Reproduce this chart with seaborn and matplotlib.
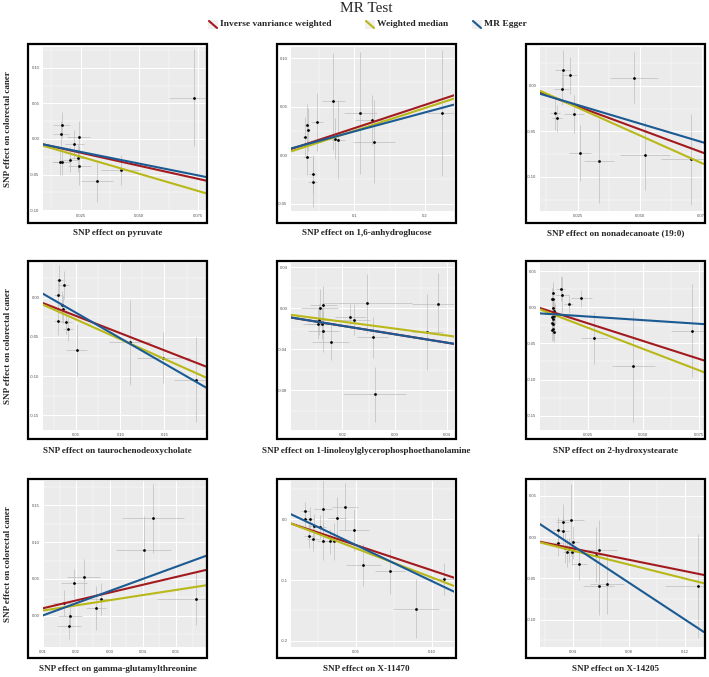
import numpy as np
import pandas as pd
import matplotlib
matplotlib.use("Agg")
import matplotlib.pyplot as plt
import seaborn as sns
from matplotlib.patches import Rectangle
from matplotlib.lines import Line2D
from matplotlib.ticker import FixedLocator

# ---------------- data ----------------
exposures = ["pyruvate", "1,6-anhydroglucose", "nonadecanoate (19:0)",
             "taurochenodeoxycholate", "1-linoleoylglycerophosphoethanolamine",
             "2-hydroxystearate", "gamma-glutamylthreonine", "X-11470", "X-14205"]
methods = ["Inverse vanriance weighted", "Weighted median", "MR Egger"]

p1_x = [0.0169, 0.0166, 0.0241, 0.0222, 0.0240, 0.0203, 0.0163, 0.0170, 0.0244, 0.0320, 0.0420, 0.0732]
p1_y = [0.0192, 0.0075, 0.0033, -0.0070, -0.0266, -0.0290, -0.0322, -0.0322, -0.0378, -0.0588, -0.0434, 0.0579]
p1_xse = [0.0036, 0.0036, 0.0050, 0.0040, 0.0040, 0.0040, 0.0035, 0.0035, 0.0050, 0.0068, 0.0085, 0.0105]
p1_yse = [0.018, 0.018, 0.022, 0.020, 0.020, 0.018, 0.018, 0.018, 0.027, 0.030, 0.021, 0.068]

p2_x = [0.0327, 0.0336, 0.0303, 0.0469, 0.0701, 0.0327, 0.0408, 0.0408, 0.0730, 0.0772, 0.1085, 0.1242, 0.1280, 0.2247]
p2_y = [0.0312, 0.0261, 0.0189, 0.0340, 0.0556, -0.0021, -0.0196, -0.0274, 0.0168, 0.0158, 0.0432, 0.0360, 0.0137, 0.0439]
p2_xse = [0.004, 0.004, 0.004, 0.008, 0.016, 0.005, 0.005, 0.006, 0.005, 0.010, 0.024, 0.024, 0.030, 0.022]
p2_yse = [0.022, 0.022, 0.020, 0.030, 0.050, 0.018, 0.020, 0.026, 0.021, 0.041, 0.063, 0.026, 0.043, 0.065]

p3_x = [0.0191, 0.0219, 0.0187, 0.0158, 0.0168, 0.0235, 0.0259, 0.0335, 0.0478, 0.0521, 0.0707]
p3_y = [0.0169, 0.0114, -0.0033, -0.0301, -0.0357, -0.0312, -0.0739, -0.0823, 0.0088, -0.0765, -0.0805]
p3_xse = [0.003, 0.003, 0.003, 0.002, 0.002, 0.004, 0.0044, 0.006, 0.0096, 0.010, 0.012]
p3_yse = [0.022, 0.020, 0.018, 0.018, 0.015, 0.021, 0.031, 0.046, 0.028, 0.038, 0.050]

p4_x = [0.0306, 0.0359, 0.0291, 0.0337, 0.0348, 0.0295, 0.0390, 0.0405, 0.0504, 0.1108, 0.1484, 0.1857]
p4_y = [0.0222, 0.0162, 0.0034, -0.0098, -0.0141, -0.0302, -0.0311, -0.0400, -0.0665, -0.0571, -0.0763, -0.1044]
p4_xse = [0.004, 0.006, 0.004, 0.004, 0.004, 0.005, 0.006, 0.006, 0.012, 0.024, 0.030, 0.025]
p4_yse = [0.020, 0.018, 0.020, 0.018, 0.018, 0.018, 0.015, 0.015, 0.033, 0.054, 0.032, 0.054]

p5_x = [0.0157, 0.0164, 0.0156, 0.0154, 0.0162, 0.0164, 0.0178, 0.0215, 0.0222, 0.0247, 0.0258, 0.0262, 0.0362, 0.0382]
p5_y = [0.0003, 0.0026, -0.0115, -0.0151, -0.0151, -0.0226, -0.0335, -0.0082, -0.0115, 0.0046, -0.0282, -0.0840, -0.0236, 0.0043]
p5_xse = [0.0035, 0.0025, 0.002, 0.003, 0.003, 0.003, 0.0035, 0.003, 0.003, 0.0085, 0.003, 0.006, 0.003, 0.005]
p5_yse = [0.018, 0.019, 0.015, 0.015, 0.015, 0.020, 0.017, 0.012, 0.015, 0.029, 0.020, 0.027, 0.037, 0.030]

p6_x = [0.0130, 0.0136, 0.0166, 0.0223, 0.0280, 0.0455, 0.0717,
        0.0094, 0.0097, 0.0091, 0.0097, 0.0100, 0.0094, 0.0093, 0.0097, 0.0091, 0.0094,
        0.0097, 0.0100, 0.0091, 0.0103, 0.0100]
p6_y = [0.0261, 0.0177, 0.0047, 0.0126, -0.0429, -0.0816, -0.0322,
        0.0196, 0.0121, 0.0121, -0.0009, -0.0047, -0.0084, -0.0140, -0.0168, -0.0210, -0.0233,
        -0.0303, -0.0336, -0.0317, -0.0093, -0.0117]
p6_xse = [0.002, 0.003, 0.002, 0.0045, 0.006, 0.0097, 0.0095,
          0.0008, 0.0008, 0.0008, 0.0008, 0.0008, 0.0008, 0.0008, 0.0008, 0.0008, 0.0008,
          0.0008, 0.0008, 0.0008, 0.0008, 0.0008]
p6_yse = [0.017, 0.025, 0.012, 0.012, 0.036, 0.078, 0.064,
          0.015, 0.015, 0.015, 0.015, 0.015, 0.015, 0.015, 0.015, 0.015, 0.015,
          0.015, 0.015, 0.015, 0.015, 0.015]

p7_x = [0.0430, 0.0403, 0.0222, 0.0193, 0.0164, 0.0180, 0.0177, 0.0259, 0.0274, 0.0559]
p7_y = [0.1323, 0.0900, 0.0527, 0.0441, 0.0177, 0.0000, -0.0141, 0.0109, 0.0232, 0.0232]
p7_xse = [0.0094, 0.0083, 0.0049, 0.0040, 0.0035, 0.0036, 0.0036, 0.0030, 0.0033, 0.0117]
p7_yse = [0.047, 0.045, 0.024, 0.020, 0.018, 0.012, 0.018, 0.030, 0.022, 0.035]

p8_x = [0.0164, 0.0162, 0.0193, 0.0282, 0.0424, 0.0371, 0.0262, 0.0221, 0.0184, 0.0214, 0.0278, 0.0326, 0.0352, 0.0485, 0.0548, 0.0725, 0.0895, 0.1082]
p8_y = [0.0131, 0.0005, 0.0005, 0.0175, 0.0207, 0.0022, -0.0131, -0.0109, -0.0273, -0.0317, -0.0366, -0.0366, -0.0366, -0.0180, -0.0753, -0.0852, -0.1469, -0.0983]
p8_xse = [0.003, 0.003, 0.003, 0.006, 0.0087, 0.006, 0.004, 0.004, 0.003, 0.004, 0.004, 0.004, 0.004, 0.0098, 0.0117, 0.010, 0.0153, 0.012]
p8_yse = [0.015, 0.015, 0.020, 0.057, 0.038, 0.035, 0.020, 0.020, 0.020, 0.020, 0.030, 0.020, 0.030, 0.034, 0.035, 0.037, 0.049, 0.027]

p9_x = [0.0287, 0.0323, 0.0328, 0.0381, 0.0292, 0.0398, 0.0342, 0.0354, 0.0390, 0.0369, 0.0443, 0.0561, 0.0586, 0.0583, 0.0643, 0.1299]
p9_y = [0.0092, 0.0181, 0.0080, 0.0209, -0.0076, -0.0064, -0.0133, -0.0185, -0.0185, -0.0145, -0.0326, -0.0213, -0.0157, -0.0595, -0.0567, -0.0595]
p9_xse = [0.003, 0.005, 0.004, 0.0096, 0.003, 0.004, 0.003, 0.003, 0.003, 0.003, 0.0054, 0.004, 0.013, 0.011, 0.012, 0.024]
p9_yse = [0.015, 0.022, 0.018, 0.044, 0.015, 0.020, 0.018, 0.018, 0.015, 0.015, 0.019, 0.033, 0.036, 0.035, 0.036, 0.063]

ivw_slope = [-0.731, 0.240, -1.009, -0.4388, -0.823, -0.991, 1.061, -0.824, -0.341]
ivw_int = [-0.0010, 0.0038, 0.0026, -0.0014, -0.0008, 0.0028, -0.0003, -0.0015, -0.0001]
wm_slope = [-0.960, 0.2357, -1.2215, -0.5033, -0.675, -1.187, 0.699, -0.950, -0.420]
wm_int = [-0.0008, 0.0014, 0.0066, -0.0027, 0.0003, 0.0016, 0.0002, -0.0006, 0.0004]
egger_slope = [-0.657, 0.1955, -0.815, -0.6484, -0.823, -0.203, 1.65, -1.178, -1.1086]
egger_int = [-0.0017, 0.0049, -0.0007, 0.0131, -0.0008, -0.0076, -0.0159, 0.0162, 0.0336]

# axis ranges and ticks
x_lims = [(0.0089, 0.0785), (0.0100, 0.2412), (0.0099, 0.0758), (0.0124, 0.197), (0.0102, 0.0413),
          (0.00374, 0.0771), (0.0100, 0.059), (0.0068, 0.1148), (0.0161, 0.134)]
y_lims = [(-0.101, 0.129), (-0.0577, 0.1115), (-0.1375, 0.0426), (-0.1688, 0.0443), (-0.1187, 0.0439),
          (-0.170, 0.0615), (-0.0423, 0.183), (-0.210, 0.0628), (-0.133, 0.068)]
x_ticks = [[0.025, 0.050, 0.075], [0.1, 0.2], [0.025, 0.050, 0.075], [0.05, 0.10, 0.15], [0.02, 0.03, 0.04],
           [0.025, 0.050, 0.075], [0.01, 0.02, 0.03, 0.04, 0.05], [0.05, 0.10], [0.04, 0.08, 0.12]]
x_ticklabels = [["0.025", "0.050", "0.075"], ["0.1", "0.2"], ["0.025", "0.050", "0.075"],
                ["0.05", "0.10", "0.15"], ["0.02", "0.03", "0.04"], ["0.025", "0.050", "0.075"],
                ["0.01", "0.02", "0.03", "0.04", "0.05"], ["0.05", "0.10"], ["0.04", "0.08", "0.12"]]
y_ticks = [[-0.10, -0.05, 0.00, 0.05, 0.10], [-0.05, 0.00, 0.05, 0.10], [-0.10, -0.05, 0.00],
           [-0.15, -0.10, -0.05, 0.00], [-0.08, -0.04, 0.00, 0.04], [-0.15, -0.10, -0.05, 0.00, 0.05],
           [0.00, 0.05, 0.10, 0.15], [-0.2, -0.1, 0.0], [-0.10, -0.05, 0.00, 0.05]]
y_ticklabels = [["-0.10", "-0.05", "0.00", "0.05", "0.10"], ["-0.05", "0.00", "0.05", "0.10"],
                ["-0.10", "-0.05", "0.00"], ["-0.15", "-0.10", "-0.05", "0.00"],
                ["-0.08", "-0.04", "0.00", "0.04"], ["-0.15", "-0.10", "-0.05", "0.00", "0.05"],
                ["0.00", "0.05", "0.10", "0.15"], ["-0.2", "-0.1", "0.0"], ["-0.10", "-0.05", "0.00", "0.05"]]

panels = [(p1_x, p1_y, p1_xse, p1_yse), (p2_x, p2_y, p2_xse, p2_yse), (p3_x, p3_y, p3_xse, p3_yse),
          (p4_x, p4_y, p4_xse, p4_yse), (p5_x, p5_y, p5_xse, p5_yse), (p6_x, p6_y, p6_xse, p6_yse),
          (p7_x, p7_y, p7_xse, p7_yse), (p8_x, p8_y, p8_xse, p8_yse), (p9_x, p9_y, p9_xse, p9_yse)]

# ---------------- style ----------------
sns.set_style("white")
plt.rcParams['font.family'] = ['Liberation Serif', 'DejaVu Serif']

W, H = 709, 677
fig = plt.figure(figsize=(W / 100, H / 100), dpi=100)
fig.patch.set_facecolor("white")

line_colors = ["#A31A1E", "#B9B819", "#1B5A93"]

col_grey = [(43, 206), (291, 454), (540, 704)]
row_grey = [(47, 211), (263, 430), (481, 647)]
col_frame = [(28, 207), (277, 456), (526, 705)]
row_frame = [(44, 223), (261, 439), (479, 658)]
xlab_y = [233, 451, 669]


def fx(px):
    return px / W


def fy(py):
    return 1 - py / H


def minor_ticks(major, lim):
    step = major[1] - major[0]
    cand = [major[0] - step / 2] + [m + step / 2 for m in major]
    return [c for c in cand if lim[0] <= c <= lim[1]]


for i in range(9):
    r, c = divmod(i, 3)
    gx0, gx1 = col_grey[c]
    gy0, gy1 = row_grey[r]
    ax = fig.add_axes([fx(gx0), fy(gy1), fx(gx1) - fx(gx0), fy(gy0) - fy(gy1)])
    ax.set_facecolor("#EBEBEB")
    bx, by, bxse, byse = panels[i]
    df = pd.DataFrame({"bx": bx, "by": by, "bxse": bxse, "byse": byse})

    ax.set_xlim(*x_lims[i])
    ax.set_ylim(*y_lims[i])
    ax.xaxis.set_major_locator(FixedLocator(x_ticks[i]))
    ax.yaxis.set_major_locator(FixedLocator(y_ticks[i]))
    ax.set_xticklabels(x_ticklabels[i])
    ax.set_yticklabels(y_ticklabels[i])
    ax.xaxis.set_minor_locator(FixedLocator(minor_ticks(x_ticks[i], x_lims[i])))
    ax.yaxis.set_minor_locator(FixedLocator(minor_ticks(y_ticks[i], y_lims[i])))
    ax.grid(which="major", color="white", linewidth=0.75)
    ax.grid(which="minor", color="white", linewidth=0.35)
    ax.set_axisbelow(True)
    ax.tick_params(which="major", length=1.5, width=0.4, color="#333333",
                   labelsize=3, labelcolor="#4D4D4D", pad=1)
    ax.tick_params(which="minor", length=0)
    for lab in ax.get_xticklabels() + ax.get_yticklabels():
        lab.set_family("Liberation Sans")
    for sp in ax.spines.values():
        sp.set_visible(False)

    # error bars
    ax.errorbar(df["bx"], df["by"], yerr=df["byse"], fmt="none", ecolor="#B8B8B8",
                elinewidth=0.45, capsize=0, zorder=2)
    ax.errorbar(df["bx"], df["by"], xerr=df["bxse"], fmt="none", ecolor="#B8B8B8",
                elinewidth=0.45, capsize=0, zorder=2)
    sns.scatterplot(data=df, x="bx", y="by", ax=ax, color="black", s=4, linewidth=0, zorder=3)

    # regression lines
    for k, (sl, it) in enumerate([(ivw_slope[i], ivw_int[i]), (wm_slope[i], wm_int[i]),
                                  (egger_slope[i], egger_int[i])]):
        ax.axline((0.0, it), slope=sl, color=line_colors[k], linewidth=1.5, zorder=4)

    ax.set_xlabel("")
    ax.set_ylabel("")

    # black frame
    fx0, fx1 = col_frame[c]
    fy0, fy1 = row_frame[r]
    fig.add_artist(Rectangle((fx(fx0), fy(fy1)), fx(fx1) - fx(fx0), fy(fy0) - fy(fy1),
                             transform=fig.transFigure, fill=False, edgecolor="black",
                             linewidth=1.6, zorder=10))
    # x label
    fig.text(fx((fx0 + fx1) / 2), fy(xlab_y[r]), "SNP effect on " + exposures[i],
             ha="center", va="center", fontsize=6.6, fontweight="bold")
    if c == 0:
        fig.text(fx(8), fy((gy0 + gy1) / 2), "SNP effect on colorectal caner", rotation=90,
                 ha="center", va="center", fontsize=6.6, fontweight="bold")

# title
fig.text(fx(366), fy(9), "MR Test", ha="center", va="center", fontsize=11)

# legend
key_x = [208, 365, 472]
for k, name in enumerate(methods):
    kx = key_x[k]
    fig.add_artist(Rectangle((fx(kx), fy(29)), fx(10), 9 / H, transform=fig.transFigure,
                             facecolor="#F0F0F0", edgecolor="none"))
    fig.add_artist(Line2D([fx(kx + 1), fx(kx + 9)], [fy(21), fy(28)], transform=fig.transFigure,
                          color=line_colors[k], linewidth=1.5))
    fig.text(fx(kx + 12), fy(24.5), name, ha="left", va="center", fontsize=6.8, fontweight="bold")

fig.savefig("out.png", dpi=100)
